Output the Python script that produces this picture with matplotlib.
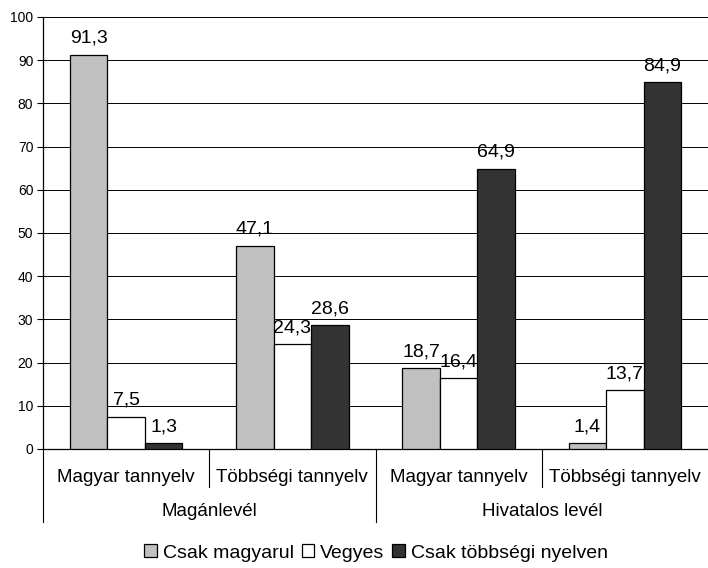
import numpy as np
import matplotlib
matplotlib.use("Agg")
import matplotlib.pyplot as plt
from matplotlib.patches import Patch

# Data
sub_labels = ["Magyar tannyelv", "Többségi tannyelv", "Magyar tannyelv", "Többségi tannyelv"]
main_labels = ["Magánlevél", "Hivatalos levél"]
series_names = ["Csak magyarul", "Vegyes", "Csak többségi nyelven"]
csak_magyarul = [91.3, 47.1, 18.7, 1.4]
vegyes = [7.5, 24.3, 16.4, 13.7]
csak_tobbsegi = [1.3, 28.6, 64.9, 84.9]
yticks = list(range(0, 101, 10))

colors = ["#C0C0C0", "#FFFFFF", "#333333"]
series = [csak_magyarul, vegyes, csak_tobbsegi]

plt.rcParams["font.family"] = ["Liberation Sans", "DejaVu Sans"]

fig = plt.figure(figsize=(7.08, 5.68), dpi=100)
ax = fig.add_axes([43 / 708, 1 - 449 / 568, 1 - 43 / 708, (449 - 17) / 568])

x = np.arange(len(sub_labels))
w = 0.226
for i, (vals, col) in enumerate(zip(series, colors)):
    bars = ax.bar(x + (i - 1) * w, vals, w, color=col, edgecolor="black", linewidth=0.9, zorder=3,
                  label=series_names[i])
    for b, v in zip(bars, vals):
        ax.annotate(f"{v:.1f}".replace(".", ","), (b.get_x() + b.get_width() / 2, v),
                    xytext=(0, 5.5), textcoords="offset points", ha="center", va="bottom",
                    fontsize=14, zorder=4)

ax.set_xlim(-0.5, 3.5)
ax.set_ylim(0, 100)
ax.set_yticks(yticks)
ax.tick_params(axis="y", labelsize=10, length=4, width=0.8, direction="out", pad=3)
ax.set_xticks([])
ax.grid(axis="y", color="black", linewidth=0.7, zorder=0)
for s in ["top", "right"]:
    ax.spines[s].set_visible(False)
ax.spines["left"].set_linewidth(0.9)
ax.spines["bottom"].set_linewidth(0.9)

# Multi-level category axis
tr = ax.get_xaxis_transform()
h1 = (487 - 449) / 432
h2 = (522 - 449) / 432
for xs in [0.5, 2.5]:
    ax.plot([xs, xs], [0, -h1], color="black", lw=0.8, transform=tr, clip_on=False)
for xs in [-0.5, 1.5]:
    ax.plot([xs, xs], [0, -h2], color="black", lw=0.8, transform=tr, clip_on=False)
for xi, lab in zip(x, sub_labels):
    ax.text(xi, -(477 - 449) / 432, lab, transform=tr, ha="center", va="center", fontsize=13.5)
for k, lab in enumerate(main_labels):
    ax.text(2 * k + 0.5, -(511 - 449) / 432, lab, transform=tr, ha="center", va="center", fontsize=13.5)

handles = [Patch(facecolor=c, edgecolor="black", linewidth=0.9) for c in colors]
fig.legend(handles, series_names, loc="center", bbox_to_anchor=(376 / 708, 1 - 553 / 568), ncol=3,
           frameon=False, fontsize=14, handlelength=0.65, handleheight=0.65, handletextpad=0.3,
           columnspacing=0.4)

fig.savefig("out.png", dpi=100)
